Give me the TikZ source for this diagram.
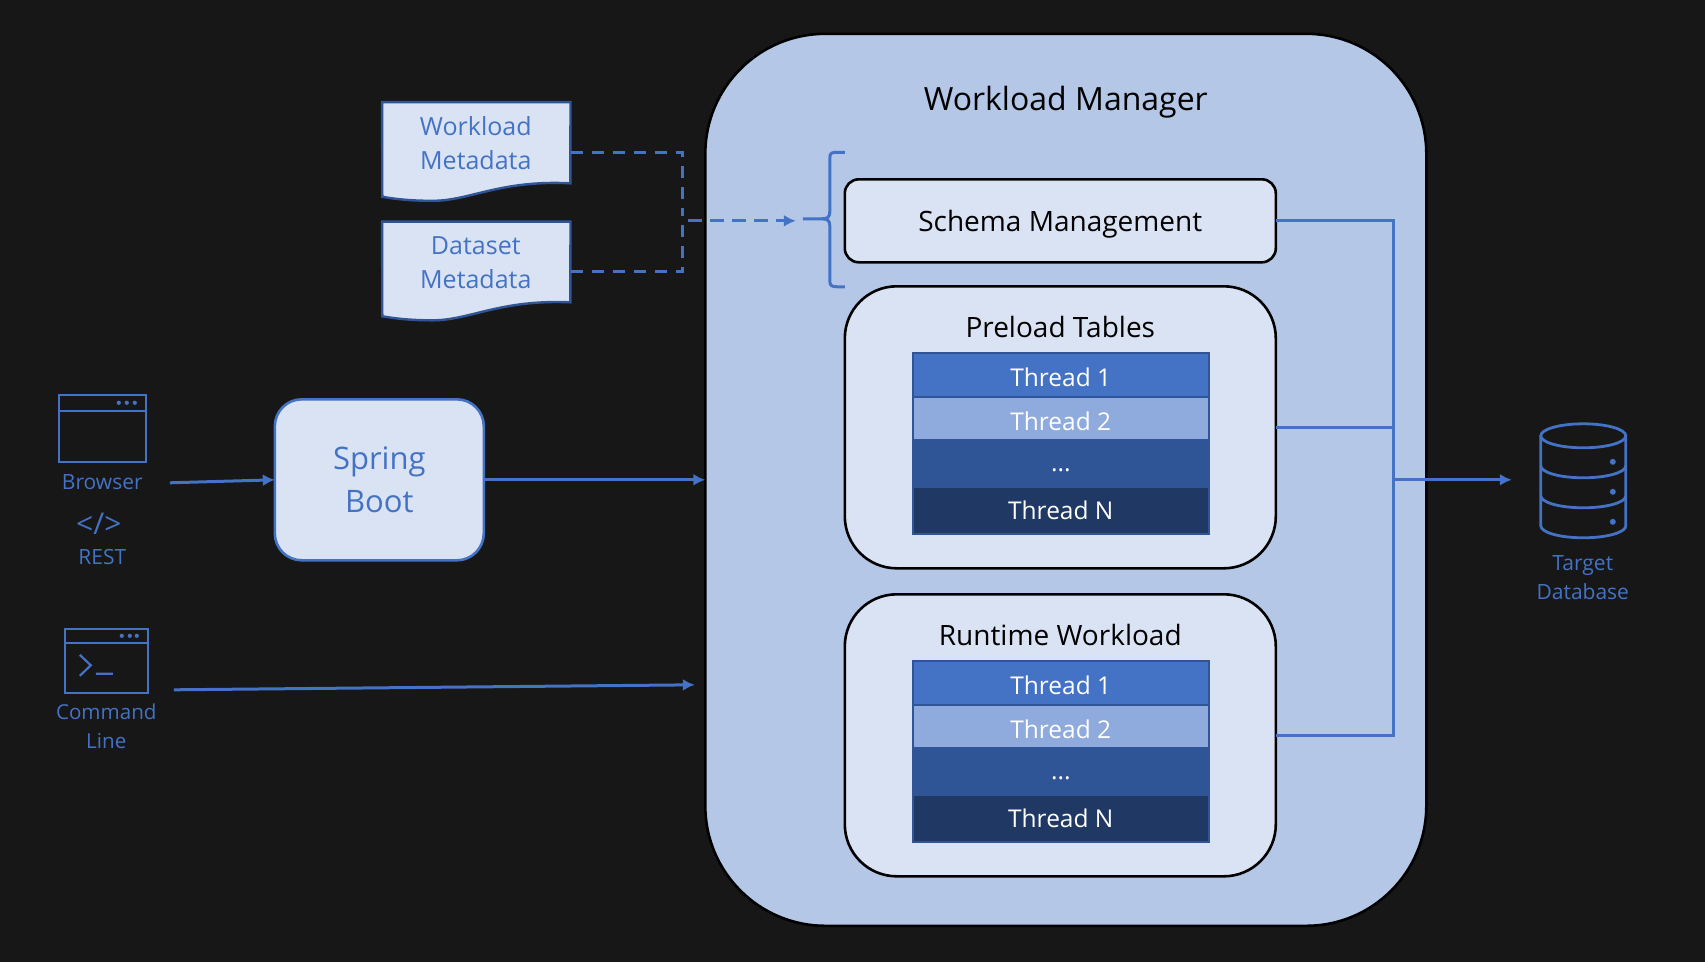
\documentclass[tikz,border=0pt]{standalone}
\usepackage{fontspec}
\setmainfont{Open Sans}
\usepackage{xcolor}
\usetikzlibrary{arrows.meta,positioning,calc}
\definecolor{pagebg}{HTML}{171717}
\definecolor{accent}{HTML}{4472C4}
\definecolor{accentdk}{HTML}{2F5597}
\definecolor{navy}{HTML}{1F3864}
\definecolor{palefill}{HTML}{DAE3F3}
\definecolor{midfill}{HTML}{B4C7E7}
\definecolor{threadlt}{HTML}{8FAADC}
\tikzset{
  panel/.style={draw=black, line width=2.6pt, outer sep=0pt, fill=palefill, align=center, text=black},
  threadrow/.style={fill=#1, text=white, minimum width=296pt, inner sep=0pt, text depth=0pt, font=\fontsize{24.5}{28}\selectfont},
  tablebox/.style={draw=accentdk, line width=2.4pt, minimum width=296pt, minimum height=181pt},
  docsheet/.style={draw=accentdk, line width=2.4pt, fill=palefill},
  bluetext/.style={text=accent, align=center, font=\fontsize{21}{29}\selectfont},
  doctext/.style={text=accent, align=center, font=\fontsize{25}{34}\selectfont},
  icon/.style={draw=accent, line width=2.2pt},
  link/.style={draw=accent, line width=3pt},
  message/.style={link, -{Latex[length=12pt,width=12pt]}},
}

\begin{document}
\begin{tikzpicture}[x=1pt,y=1pt]
  % Page
  \node[fill=pagebg, minimum width=1705pt, minimum height=962pt, inner sep=0pt, anchor=north west] (page) at (0,0) {};

  % Workload manager
  \node[panel, fill=midfill, rounded corners=120pt, minimum width=721pt, minimum height=892pt] (manager) at (1066,-480) {};
  \node[font=\fontsize{32}{36}\selectfont, text=black] (managertitle) at (1066,-102) {Workload Manager};

  \node[panel, rounded corners=14pt, minimum width=431pt, minimum height=83pt, text depth=0pt, font=\fontsize{28}{32}\selectfont] (schema) at (1060.5,-221) {Schema Management};

  % Preload tables
  \node[panel, rounded corners=52pt, minimum width=431pt, minimum height=282pt] (preload) at (1060.5,-427.5) {};
  \node[font=\fontsize{28}{32}\selectfont, text=black] (preloadtitle) at (1060.5,-327) {Preload Tables};
  \node[threadrow=accent, minimum height=44pt, text height=24pt] (preA) at (1061,-375) {Thread 1};
  \node[threadrow=threadlt, minimum height=42pt, text height=26pt] (preB) at (1061,-418) {Thread 2};
  \node[threadrow=accentdk, minimum height=49pt, text height=17pt] (preC) at (1061,-463.5) {...};
  \node[threadrow=navy, minimum height=46pt, text height=18pt] (preD) at (1061,-511) {Thread N};
  \node[tablebox] (pretable) at (1061,-443.5) {};
  \draw[accentdk, line width=1.6pt] (preA.south west) -- (preA.south east);

  % Runtime workload
  \node[panel, rounded corners=52pt, minimum width=431pt, minimum height=282pt] (runtime) at (1060.5,-735.5) {};
  \node[font=\fontsize{28}{32}\selectfont, text=black] (runtimetitle) at (1060.5,-635) {Runtime Workload};
  \node[threadrow=accent, minimum height=44pt, text height=24pt] (runA) at (1061,-683) {Thread 1};
  \node[threadrow=threadlt, minimum height=42pt, text height=26pt] (runB) at (1061,-726) {Thread 2};
  \node[threadrow=accentdk, minimum height=49pt, text height=17pt] (runC) at (1061,-771.5) {...};
  \node[threadrow=navy, minimum height=46pt, text height=18pt] (runD) at (1061,-819) {Thread N};
  \node[tablebox] (runtable) at (1061,-751.5) {};
  \draw[accentdk, line width=1.6pt] (runA.south west) -- (runA.south east);

  % Metadata documents
  \node[minimum width=188pt, minimum height=100pt, inner sep=0pt] (wmeta) at (476.5,-152.5) {};
  \draw[docsheet] (wmeta.north west) -- (wmeta.north east) -- (570.5,-183.5)
    .. controls (500,-180) and (470,-201) .. (433,-201)
    .. controls (415,-201) and (400,-200) .. (382.5,-197) -- cycle;
  \node[doctext] (wmetatext) at (476,-143) {Workload\\Metadata};
  \node[minimum width=188pt, minimum height=100pt, inner sep=0pt] (dmeta) at (476.5,-272) {};
  \draw[docsheet] (dmeta.north west) -- (dmeta.north east) -- (570.5,-302.5)
    .. controls (500,-299.5) and (470,-320.5) .. (433,-320.5)
    .. controls (415,-320.5) and (400,-319.5) .. (382.5,-316.5) -- cycle;
  \node[doctext] (dmetatext) at (476,-262.5) {Dataset\\Metadata};

  % Brace and dashed feed
  \coordinate (bracetop) at (845,-152.5);
  \coordinate (bracebot) at (845,-287);
  \coordinate (bracetip) at (803,-219);
  \coordinate (feedstart) at (688,-221);
  \coordinate (feedend) at (796,-221);
  \draw[link] (bracetop) -- (838,-152.5) .. controls (832,-152.5) and (830,-153) .. (830,-158)
    -- (830,-212) .. controls (830,-217) and (828,-219) .. (822,-219) -- (bracetip);
  \draw[link] (bracebot) -- (838,-287) .. controls (832,-287) and (830,-286) .. (830,-281)
    -- (830,-226) .. controls (830,-221) and (828,-219) .. (822,-219);
  \draw[link, dashed, dash pattern=on 12pt off 9pt] (wmeta.east) -| (683,-212);
  \draw[link, dashed, dash pattern=on 12pt off 9pt] (dmeta.east) -| (683,-212);
  \draw[message, dash pattern=on 14pt off 8pt] (feedstart) -- (feedend);

  % Spring Boot
  \node[panel, draw=accent, text=accent, rounded corners=27pt, minimum width=209pt, minimum height=161pt, font=\fontsize{31}{43}\selectfont] (spring) at (379.5,-480) {Spring\\Boot};

  % Browser icon
  \node[icon, minimum width=87pt, minimum height=67pt, inner sep=0pt] (browser) at (102.5,-428.5) {};
  \draw[icon] ($(browser.north west)+(0,-17)$) -- ($(browser.north east)+(0,-17)$);
  \fill[accent] (119,-403) circle (2.1pt) (127,-403) circle (2.1pt) (135,-403) circle (2.1pt);
  \node[bluetext] (browsertext) at (102.5,-482) {Browser};
  \node[bluetext, font=\fontsize{30}{32}\selectfont] (resttag) at (99,-524) {</>};
  \node[bluetext] (resttext) at (102.5,-557) {REST};

  % Command line icon
  \node[icon, minimum width=83pt, minimum height=64pt, inner sep=0pt] (cmdline) at (106.5,-661) {};
  \draw[icon] ($(cmdline.north west)+(0,-15)$) -- ($(cmdline.north east)+(0,-15)$);
  \fill[accent] (122,-636) circle (2.1pt) (130,-636) circle (2.1pt) (137,-636) circle (2.1pt);
  \draw[icon] (80,-655) -- (91,-665.5) -- (80,-676) (96,-674) -- (113,-674);
  \node[bluetext, font=\fontsize{20.6}{29}\selectfont] (cmdtext) at (106.5,-726.5) {Command\\Line};

  % Database icon
  \coordinate (dbcentre) at (1583.5,-436);
  \draw[icon, line width=2.8pt] (dbcentre) ellipse (42.5pt and 12pt);
  \draw[icon, line width=2.8pt] (1541,-436) -- (1541,-526) arc (180:360:42.5pt and 12pt) -- (1626,-436);
  \draw[icon, line width=2.8pt] (1541,-466) arc (180:360:42.5pt and 12pt);
  \draw[icon, line width=2.8pt] (1541,-496) arc (180:360:42.5pt and 12pt);
  \fill[accent] (1613,-462) circle (3pt) (1613,-492) circle (3pt) (1613,-522) circle (3pt);
  \node[minimum width=85pt, minimum height=102pt, inner sep=0pt] (database) at (1583.5,-487) {};
  \node[bluetext] (dbtext) at (1583,-577.5) {Target\\Database};

  % Connectors
  \coordinate (joint) at (1394,-480);
  \draw[link] (schema.east) -| (joint);
  \draw[link] (runtime.east) -| (joint);
  \draw[link] (preload.east) -- (1394,-427.5);
  \draw[message] (joint) -- (1512,-480);

  \coordinate (browserout) at (170,-483);
  \coordinate (cmdout) at (174,-690);
  \coordinate (cmdin) at (695,-685);
  \draw[message] (browserout) -- (spring.west);
  \draw[message] (spring.east) -- (manager.west);
  \draw[message] (cmdout) -- (cmdin);
\end{tikzpicture}
\end{document}
